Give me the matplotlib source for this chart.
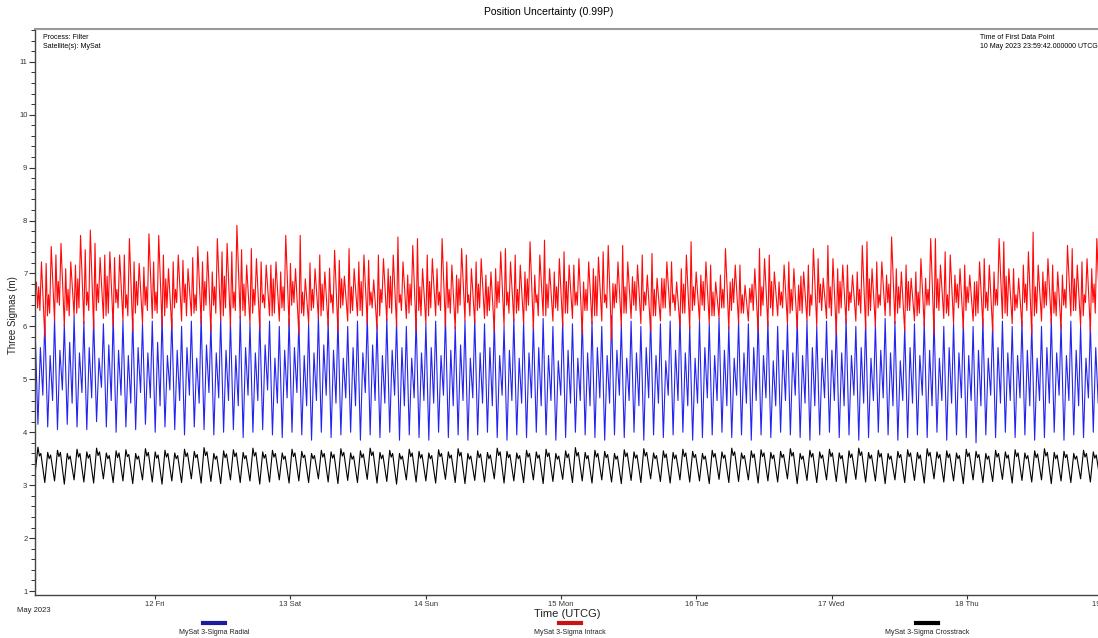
import numpy as np
import matplotlib
matplotlib.use("Agg")
import matplotlib.pyplot as plt
import matplotlib.dates as mdates
from matplotlib.lines import Line2D
from matplotlib.ticker import MultipleLocator
from datetime import datetime, timedelta

plt.rcParams['font.family'] = ['Liberation Sans', 'DejaVu Sans']

# time grid: one entry per orbit (~104 min per orbit)
start = datetime(2023, 5, 11, 2, 43)
orbit = timedelta(minutes=104)

# intrack (red): two spikes, two dips and some jitter per orbit
intrack_lo1 = [6.65, 5.80, 6.10, 6.00, 6.20, 6.05, 5.95, 6.15, 6.00, 6.10,
               5.90, 6.05, 6.15, 6.00, 5.95, 6.10, 6.20, 6.05, 5.90, 6.10,
               6.00, 6.15, 6.05, 5.95, 6.20, 6.10, 6.00, 5.85, 6.05, 6.15,
               6.00, 5.90, 6.10, 6.20, 6.05, 5.95, 6.10, 6.00, 6.15, 5.90,
               6.05, 6.20, 6.00, 5.95, 6.10, 6.05, 6.15, 5.90, 6.00, 6.10,
               6.05, 5.95, 6.20, 6.10, 6.00, 6.15, 5.85, 6.05, 6.10, 5.75,
               6.00, 6.15, 6.05, 5.90, 6.10, 6.20, 6.00, 5.95, 6.10, 6.05,
               6.15, 5.95, 6.05, 6.10, 5.90, 6.00, 6.20, 6.05, 5.95, 6.10,
               6.00, 6.15, 5.85, 6.05, 6.10, 5.95, 6.00, 6.20, 6.05, 5.90,
               6.10, 6.00, 5.85, 6.15, 6.05, 5.95, 6.10, 6.00, 5.90, 6.15,
               6.05, 6.00, 5.85, 6.10, 6.05, 5.95, 6.20, 6.00, 5.90, 6.05]
intrack_hi1 = [6.84, 7.19, 7.35, 7.09, 7.16, 7.45, 7.57, 7.35, 7.30, 7.35,
               7.22, 7.12, 7.22, 7.35, 7.22, 7.25, 7.30, 7.22, 7.03, 7.41,
               7.41, 7.45, 7.47, 7.22, 7.16, 7.03, 7.19, 7.72, 7.20, 7.35,
               7.10, 7.25, 7.47, 7.22, 7.25, 7.35, 7.09, 7.69, 6.97, 7.66,
               7.35, 7.09, 7.22, 6.97, 7.35, 7.22, 6.97, 7.09, 7.47, 7.35,
               7.03, 6.97, 7.63, 7.03, 7.41, 7.16, 6.84, 7.09, 7.41, 6.81,
               7.53, 6.94, 7.35, 7.38, 6.91, 7.22, 7.09, 7.60, 6.97, 7.16,
               6.97, 6.84, 7.16, 6.72, 7.47, 7.35, 6.84, 7.22, 6.78, 7.16,
               7.28, 7.53, 7.09, 7.16, 7.03, 7.60, 7.22, 6.97, 7.09, 7.16,
               7.03, 6.91, 7.66, 7.41, 6.97, 7.16, 6.84, 7.28, 7.03, 7.60,
               7.09, 7.16, 7.78, 7.03, 7.16, 6.97, 7.47, 7.22, 7.09, 7.35]
intrack_m = [6.35, 6.20, 6.45, 6.30, 6.25, 6.40, 6.30, 6.20, 6.45, 6.35,
             6.25, 6.40, 6.30, 6.20, 6.35, 6.45, 6.25, 6.30, 6.40, 6.20,
             6.35, 6.30, 6.25, 6.45, 6.20, 6.35, 6.40, 6.25, 6.30, 6.20,
             6.45, 6.35, 6.25, 6.30, 6.40, 6.20, 6.35, 6.45, 6.25, 6.30,
             6.20, 6.40, 6.35, 6.25, 6.45, 6.30, 6.20, 6.35, 6.40, 6.25,
             6.30, 6.45, 6.20, 6.35, 6.25, 6.40, 6.30, 6.20, 6.45, 6.35,
             6.25, 6.40, 6.30, 6.20, 6.35, 6.45, 6.25, 6.30, 6.40, 6.20,
             6.35, 6.30, 6.25, 6.45, 6.20, 6.35, 6.40, 6.25, 6.30, 6.20,
             6.45, 6.35, 6.25, 6.30, 6.40, 6.20, 6.35, 6.45, 6.25, 6.30,
             6.20, 6.40, 6.35, 6.25, 6.45, 6.30, 6.20, 6.35, 6.40, 6.25,
             6.30, 6.45, 6.20, 6.35, 6.25, 6.40, 6.30, 6.20, 6.45, 6.35]
intrack_n = [6.75, 6.60, 6.85, 6.70, 6.90, 6.65, 6.80, 6.95, 6.70, 6.60,
             6.85, 6.75, 6.65, 6.90, 6.70, 6.80, 6.60, 6.85, 6.75, 6.95,
             6.65, 6.80, 6.70, 6.60, 6.90, 6.75, 6.85, 6.65, 6.70, 6.80,
             6.60, 6.90, 6.75, 6.85, 6.65, 6.70, 6.95, 6.60, 6.80, 6.75,
             6.85, 6.65, 6.70, 6.90, 6.60, 6.80, 6.75, 6.85, 6.65, 6.70,
             6.90, 6.60, 6.80, 6.75, 6.85, 6.65, 6.70, 6.95, 6.60, 6.80,
             6.75, 6.85, 6.65, 6.70, 6.90, 6.60, 6.80, 6.75, 6.85, 6.65,
             6.70, 6.90, 6.60, 6.80, 6.75, 6.85, 6.65, 6.70, 6.95, 6.60,
             6.80, 6.75, 6.85, 6.65, 6.70, 6.90, 6.60, 6.80, 6.75, 6.85,
             6.65, 6.70, 6.90, 6.60, 6.80, 6.75, 6.85, 6.65, 6.70, 6.95,
             6.60, 6.80, 6.75, 6.85, 6.65, 6.70, 6.90, 6.60, 6.80, 6.75]
intrack_lo2 = [6.30, 6.25, 6.40, 6.20, 6.35, 6.30, 6.45, 6.25, 6.35, 6.20,
               6.40, 6.30, 6.25, 6.35, 6.45, 6.20, 6.30, 6.40, 6.25, 6.35,
               6.30, 6.20, 6.40, 6.35, 6.25, 6.30, 6.45, 6.20, 6.35, 6.30,
               6.25, 6.40, 6.30, 6.20, 6.35, 6.45, 6.25, 6.30, 6.40, 6.20,
               6.35, 6.30, 6.25, 6.40, 6.20, 6.35, 6.30, 6.45, 6.25, 6.30,
               6.40, 6.20, 6.35, 6.30, 6.25, 6.40, 6.30, 6.20, 6.35, 6.45,
               6.25, 6.30, 6.40, 6.20, 6.35, 6.30, 6.25, 6.40, 6.30, 6.20,
               6.35, 6.45, 6.25, 6.30, 6.40, 6.20, 6.35, 6.30, 6.25, 6.40,
               6.30, 6.20, 6.35, 6.45, 6.25, 6.30, 6.40, 6.20, 6.35, 6.30,
               6.25, 6.40, 6.30, 6.20, 6.35, 6.45, 6.25, 6.30, 6.40, 6.20,
               6.35, 6.30, 6.25, 6.40, 6.20, 6.35, 6.30, 6.45, 6.25, 6.30]
intrack_hi2 = [7.22, 7.51, 7.57, 7.22, 7.72, 7.82, 7.30, 7.41, 7.35, 7.66,
               7.19, 7.75, 7.72, 7.09, 7.35, 7.09, 7.51, 7.41, 7.66, 7.57,
               7.91, 7.16, 7.28, 7.16, 7.22, 7.72, 7.09, 6.90, 7.09, 7.03,
               7.44, 6.95, 7.09, 7.35, 6.88, 7.28, 7.35, 7.22, 7.53, 7.09,
               7.28, 7.66, 7.16, 7.47, 7.09, 7.28, 7.03, 7.41, 7.22, 7.16,
               7.60, 7.35, 7.09, 7.28, 7.16, 7.28, 7.22, 7.31, 7.53, 7.22,
               7.22, 7.16, 6.97, 6.91, 7.22, 6.84, 7.35, 7.03, 7.22, 6.84,
               7.47, 7.16, 6.78, 7.09, 7.28, 7.03, 7.16, 7.09, 7.03, 7.47,
               6.91, 7.28, 7.16, 6.97, 7.53, 7.09, 7.22, 7.69, 7.03, 6.91,
               7.28, 7.66, 7.16, 7.35, 7.09, 6.97, 7.22, 7.16, 7.66, 7.09,
               6.91, 7.41, 7.16, 7.28, 7.03, 7.53, 7.16, 7.28, 7.66, 7.22]

# radial (blue): big swing then a smaller one each orbit
radial_hi1 = [6.00, 6.10, 6.15, 6.05, 6.20, 6.10, 6.15, 6.05, 6.20, 6.10,
              6.15, 6.05, 6.10, 6.20, 6.15, 6.00, 6.10, 6.20, 6.05, 6.15,
              6.10, 6.20, 6.05, 6.15, 6.10, 6.00, 6.15, 6.10, 6.05, 6.20,
              6.10, 6.15, 6.00, 6.10, 6.20, 6.05, 6.15, 6.10, 6.00, 6.15,
              6.05, 6.10, 6.20, 6.00, 6.10, 6.15, 6.05, 6.10, 6.00, 6.15,
              6.10, 6.05, 6.15, 6.00, 6.10, 6.05, 6.15, 6.10, 6.00, 6.20,
              6.05, 6.10, 6.00, 6.15, 6.05, 6.10, 6.20, 6.00, 6.10, 6.05,
              6.15, 6.00, 6.10, 6.05, 6.15, 6.10, 6.00, 6.05, 6.15, 6.10,
              6.00, 6.10, 6.05, 6.15, 6.00, 6.10, 6.05, 6.15, 6.10, 6.00,
              6.05, 6.10, 6.15, 6.00, 6.05, 6.10, 6.00, 6.15, 6.05, 6.10,
              6.00, 6.10, 6.05, 6.00, 6.15, 6.05, 6.10, 6.00, 6.05, 6.10]
radial_lo1 = [4.15, 4.10, 4.05, 4.15, 4.10, 4.05, 4.20, 4.10, 4.00, 4.10,
              4.05, 4.15, 4.00, 4.10, 4.05, 3.95, 4.10, 4.05, 3.95, 4.00,
              4.05, 3.90, 4.00, 4.05, 3.95, 3.90, 4.00, 3.95, 3.85, 4.00,
              3.90, 3.95, 4.00, 3.85, 3.95, 3.90, 4.00, 3.85, 3.95, 3.90,
              3.85, 4.00, 3.90, 3.95, 3.85, 3.95, 4.00, 3.90, 3.85, 3.95,
              3.90, 4.00, 3.95, 3.85, 3.90, 4.00, 3.95, 3.90, 3.85, 3.95,
              3.90, 4.00, 3.85, 3.95, 3.90, 3.95, 4.00, 3.85, 3.90, 3.95,
              4.00, 3.90, 3.95, 3.85, 3.95, 3.90, 4.00, 3.95, 3.90, 3.85,
              3.95, 4.00, 3.90, 3.95, 3.85, 3.90, 4.00, 3.95, 3.85, 3.90,
              3.95, 3.90, 4.00, 3.85, 3.95, 3.90, 3.80, 3.95, 3.90, 4.00,
              3.90, 3.95, 3.85, 3.90, 4.00, 3.85, 3.95, 3.90, 4.00, 3.95]
radial_hi2 = [5.60, 5.45, 5.55, 5.70, 5.50, 5.60, 5.40, 5.65, 5.55, 5.45,
              5.60, 5.50, 5.70, 5.45, 5.55, 5.60, 5.40, 5.65, 5.50, 5.55,
              5.45, 5.60, 5.50, 5.65, 5.40, 5.55, 5.60, 5.45, 5.50, 5.65,
              5.55, 5.40, 5.60, 5.50, 5.65, 5.45, 5.55, 5.60, 5.40, 5.50,
              5.60, 5.45, 5.55, 5.65, 5.40, 5.50, 5.60, 5.45, 5.55, 5.40,
              5.50, 5.60, 5.45, 5.35, 5.55, 5.40, 5.50, 5.60, 5.45, 5.55,
              5.40, 5.50, 5.60, 5.45, 5.35, 5.55, 5.50, 5.40, 5.60, 5.45,
              5.55, 5.40, 5.50, 5.60, 5.45, 5.35, 5.55, 5.50, 5.45, 5.60,
              5.40, 5.55, 5.50, 5.45, 5.60, 5.40, 5.55, 5.50, 5.35, 5.60,
              5.45, 5.55, 5.40, 5.60, 5.50, 5.45, 5.55, 5.40, 5.60, 5.50,
              5.45, 5.55, 5.40, 5.60, 5.50, 5.45, 5.55, 5.40, 5.60, 5.50]
radial_lo2 = [4.70, 4.60, 4.80, 4.55, 4.75, 4.65, 4.85, 4.60, 4.70, 4.55,
              4.75, 4.65, 4.50, 4.80, 4.60, 4.70, 4.55, 4.75, 4.65, 4.60,
              4.50, 4.70, 4.60, 4.80, 4.55, 4.65, 4.75, 4.50, 4.60, 4.70,
              4.55, 4.65, 4.50, 4.75, 4.60, 4.55, 4.70, 4.50, 4.65, 4.60,
              4.55, 4.70, 4.50, 4.60, 4.65, 4.55, 4.50, 4.70, 4.60, 4.55,
              4.65, 4.50, 4.60, 4.70, 4.55, 4.60, 4.50, 4.65, 4.55, 4.70,
              4.60, 4.50, 4.65, 4.55, 4.70, 4.60, 4.50, 4.55, 4.65, 4.60,
              4.50, 4.70, 4.55, 4.60, 4.65, 4.50, 4.60, 4.70, 4.55, 4.50,
              4.65, 4.60, 4.50, 4.70, 4.55, 4.60, 4.65, 4.50, 4.60, 4.55,
              4.70, 4.50, 4.60, 4.55, 4.65, 4.60, 4.50, 4.70, 4.55, 4.60,
              4.65, 4.50, 4.60, 4.55, 4.70, 4.60, 4.50, 4.65, 4.55, 4.60]

# crosstrack (black): trough, then a notched double-humped top
cross_lo = [3.20, 3.05, 3.08, 3.02, 3.10, 3.06, 3.04, 3.12, 3.05, 3.08,
            3.03, 3.10, 3.06, 3.02, 3.08, 3.05, 3.12, 3.04, 3.07, 3.03,
            3.10, 3.05, 3.08, 3.02, 3.06, 3.10, 3.04, 3.08, 3.05, 3.12,
            3.06, 3.03, 3.09, 3.05, 3.11, 3.04, 3.07, 3.02, 3.10, 3.06,
            3.08, 3.04, 3.11, 3.05, 3.03, 3.09, 3.06, 3.12, 3.04, 3.08,
            3.05, 3.10, 3.03, 3.07, 3.11, 3.05, 3.08, 3.04, 3.10, 3.06,
            3.03, 3.09, 3.05, 3.12, 3.07, 3.04, 3.10, 3.06, 3.08, 3.03,
            3.11, 3.05, 3.07, 3.10, 3.04, 3.08, 3.06, 3.12, 3.03, 3.09,
            3.05, 3.10, 3.07, 3.04, 3.11, 3.06, 3.08, 3.03, 3.10, 3.05,
            3.09, 3.04, 3.12, 3.06, 3.08, 3.03, 3.10, 3.05, 3.07, 3.11,
            3.04, 3.09, 3.06, 3.10, 3.03, 3.08, 3.05, 3.12, 3.06, 3.09]
cross_hi1 = [3.72, 3.62, 3.66, 3.60, 3.68, 3.63, 3.70, 3.61, 3.65, 3.67,
             3.60, 3.69, 3.63, 3.66, 3.61, 3.68, 3.64, 3.71, 3.60, 3.65,
             3.67, 3.62, 3.70, 3.63, 3.66, 3.61, 3.68, 3.64, 3.60, 3.66,
             3.63, 3.69, 3.61, 3.65, 3.70, 3.62, 3.66, 3.60, 3.68, 3.64,
             3.61, 3.67, 3.63, 3.69, 3.60, 3.65, 3.62, 3.70, 3.64, 3.61,
             3.66, 3.63, 3.68, 3.60, 3.65, 3.71, 3.62, 3.66, 3.64, 3.60,
             3.67, 3.63, 3.69, 3.61, 3.65, 3.62, 3.68, 3.64, 3.60, 3.66,
             3.63, 3.70, 3.61, 3.65, 3.67, 3.62, 3.64, 3.69, 3.60, 3.66,
             3.63, 3.68, 3.61, 3.65, 3.70, 3.62, 3.66, 3.60, 3.64, 3.67,
             3.62, 3.69, 3.63, 3.65, 3.61, 3.68, 3.64, 3.60, 3.66, 3.63,
             3.67, 3.61, 3.65, 3.69, 3.62, 3.64, 3.60, 3.66, 3.63, 3.65]
cross_notch = [3.55, 3.50, 3.54, 3.49, 3.53, 3.51, 3.56, 3.50, 3.52, 3.54,
               3.49, 3.55, 3.51, 3.53, 3.50, 3.54, 3.52, 3.56, 3.49, 3.52,
               3.54, 3.50, 3.55, 3.51, 3.53, 3.49, 3.54, 3.52, 3.50, 3.53,
               3.51, 3.55, 3.49, 3.52, 3.56, 3.50, 3.53, 3.49, 3.54, 3.51,
               3.50, 3.54, 3.51, 3.55, 3.49, 3.52, 3.50, 3.56, 3.52, 3.50,
               3.53, 3.51, 3.54, 3.49, 3.52, 3.55, 3.50, 3.53, 3.52, 3.49,
               3.54, 3.51, 3.55, 3.50, 3.52, 3.50, 3.54, 3.52, 3.49, 3.53,
               3.51, 3.56, 3.50, 3.52, 3.54, 3.50, 3.52, 3.55, 3.49, 3.53,
               3.51, 3.54, 3.50, 3.52, 3.56, 3.50, 3.53, 3.49, 3.52, 3.54,
               3.50, 3.55, 3.51, 3.52, 3.50, 3.54, 3.52, 3.49, 3.53, 3.51,
               3.54, 3.50, 3.52, 3.55, 3.50, 3.52, 3.49, 3.53, 3.51, 3.52]
cross_hi2 = [3.60, 3.57, 3.62, 3.55, 3.60, 3.58, 3.63, 3.56, 3.61, 3.58,
             3.55, 3.62, 3.57, 3.60, 3.56, 3.61, 3.58, 3.63, 3.55, 3.59,
             3.61, 3.56, 3.62, 3.58, 3.60, 3.55, 3.61, 3.57, 3.56, 3.60,
             3.58, 3.62, 3.55, 3.59, 3.63, 3.57, 3.60, 3.55, 3.61, 3.58,
             3.56, 3.60, 3.57, 3.62, 3.55, 3.59, 3.57, 3.63, 3.58, 3.56,
             3.60, 3.57, 3.61, 3.55, 3.59, 3.62, 3.56, 3.60, 3.58, 3.55,
             3.61, 3.57, 3.62, 3.56, 3.59, 3.57, 3.61, 3.58, 3.55, 3.60,
             3.57, 3.63, 3.56, 3.59, 3.61, 3.57, 3.58, 3.62, 3.55, 3.60,
             3.57, 3.61, 3.56, 3.59, 3.63, 3.57, 3.60, 3.55, 3.58, 3.61,
             3.57, 3.62, 3.58, 3.59, 3.56, 3.61, 3.58, 3.55, 3.60, 3.57,
             3.61, 3.56, 3.59, 3.62, 3.57, 3.58, 3.55, 3.60, 3.57, 3.59]


def series(values, phases):
    # lay the per-orbit points out in time, in the order they occur in an orbit
    n = len(values[0])
    base = mdates.date2num(start)
    step = orbit / timedelta(days=1)
    t = base + (np.arange(n)[:, None] + np.array(phases)[None, :]) * step
    y = np.column_stack(values)
    return t.ravel(), y.ravel()


fig = plt.figure(figsize=(10.98, 6.38), dpi=100)
ax = fig.add_axes([35 / 1098, 43 / 638, 1075 / 1098, 566 / 638])

t, y = series([radial_hi1, radial_lo1, radial_hi2, radial_lo2], [0.0, 0.3, 0.55, 0.8])
ax.plot(t, y, color='#2424f0', lw=0.8)
t, y = series([intrack_lo1, intrack_hi1, intrack_m, intrack_n, intrack_lo2, intrack_hi2],
              [0.0, 0.14, 0.27, 0.38, 0.5, 0.66])
ax.plot(t, y, color='#ff0a0a', lw=0.8)
t, y = series([cross_lo, cross_hi1, cross_notch, cross_hi2], [0.0, 0.3, 0.45, 0.6])
ax.plot(t, y, color='black', lw=0.8)

ax.set_xlim(mdates.date2num(start), mdates.date2num(datetime(2023, 5, 19, 1, 24)))
ax.set_ylim(0.925, 11.62)

ax.yaxis.set_major_locator(MultipleLocator(1))
ax.yaxis.set_minor_locator(MultipleLocator(0.2))
ax.xaxis.set_major_locator(mdates.DayLocator())
ax.xaxis.set_major_formatter(mdates.DateFormatter('%d %a'))
ax.tick_params(axis='y', which='major', labelsize=5.5, length=4, width=0.8, pad=1.5, colors='#333333')
ax.tick_params(axis='y', which='minor', length=3, width=0.7, colors='#333333')
ax.tick_params(axis='x', which='major', labelsize=5.5, length=3, width=0.8, pad=1.5, colors='#333333')

for s in ['left', 'bottom']:
    ax.spines[s].set_color('#444444')
    ax.spines[s].set_linewidth(1.0)
ax.spines['top'].set_color('#999999')
ax.spines['top'].set_linewidth(1.5)
ax.spines['right'].set_visible(False)

fig.text(13 / 1098, 1 - 315 / 638, 'Three Sigmas (m)', rotation=90, ha='center', va='center',
         fontsize=7, color='#222222')
fig.text(0.5, 1 - 12 / 638, 'Position Uncertainty (0.99P)', ha='center', va='center', fontsize=7.5)
fig.text(567 / 1098, 1 - 614 / 638, 'Time (UTCG)', ha='center', va='center', fontsize=8, color='#222222')
fig.text(17 / 1098, 1 - 611 / 638, 'May 2023', ha='left', va='center', fontsize=5.5, color='#222222')

fig.text(43 / 1098, 1 - 34 / 638, 'Process: Filter\nSatellite(s): MySat',
         ha='left', va='top', fontsize=5, linespacing=1.3)
fig.text(980 / 1098, 1 - 34 / 638, 'Time of First Data Point\n10 May 2023 23:59:42.000000 UTCG',
         ha='left', va='top', fontsize=5, linespacing=1.3)

# legend drawn below the axis, one swatch over each label
legend = [('MySat 3-Sigma Radial', '#1c1c9c', 214),
          ('MySat 3-Sigma Intrack', '#c81414', 570),
          ('MySat 3-Sigma Crosstrack', 'black', 927)]
for label, color, xc in legend:
    fig.add_artist(Line2D([(xc - 11) / 1098, (xc + 11) / 1098], [1 - 623 / 638] * 2,
                          color=color, lw=3, transform=fig.transFigure))
    fig.text(xc / 1098, 1 - 632 / 638, label, ha='center', va='center', fontsize=5, color='#222222')

fig.savefig('out.png', dpi=100)
